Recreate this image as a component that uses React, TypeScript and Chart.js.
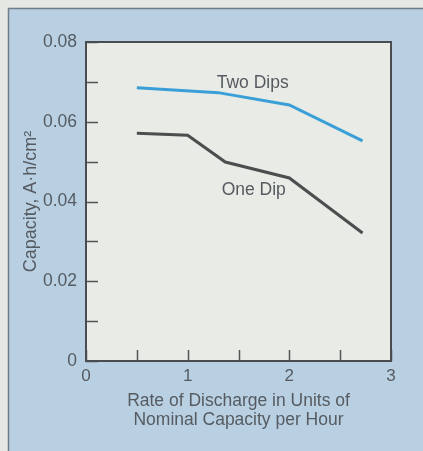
import React, { useEffect, useRef } from "react";
import { Chart, registerables } from "chart.js";

Chart.register(...registerables);

const twoDipsX = [0.5, 1.3, 2.0, 2.72];
const twoDipsY = [0.0685, 0.0673, 0.0642, 0.0552];
const oneDipX = [0.5, 1.0, 1.37, 2.0, 2.72];
const oneDipY = [0.0571, 0.0566, 0.0499, 0.0459, 0.0321];

const seriesLabels = ["Two Dips", "One Dip"];
const labelX = [1.64, 1.65];
const labelY = [0.0697, 0.0429];

const yTitle = "Capacity, A·h/cm²";
const xTitle = ["Rate of Discharge in Units of", "Nominal Capacity per Hour"];

const FONT = "'Liberation Sans', Arial, Helvetica, sans-serif";
const TEXT = "#555b60";

const decorPlugin = {
  id: "decor",
  beforeDraw(chart: any) {
    const { ctx, width, height, chartArea } = chart;
    ctx.save();
    ctx.fillStyle = "#e6e8e3";
    ctx.fillRect(0, 0, width, height);
    ctx.fillStyle = "#b9d0e3";
    ctx.fillRect(8, 8, width - 8, height - 8);
    ctx.strokeStyle = "#6d7d8a";
    ctx.lineWidth = 1.5;
    ctx.beginPath();
    ctx.moveTo(8.5, height);
    ctx.lineTo(8.5, 8.5);
    ctx.lineTo(width, 8.5);
    ctx.stroke();
    ctx.fillStyle = "#e9ebe7";
    ctx.fillRect(chartArea.left, chartArea.top, chartArea.right - chartArea.left, chartArea.bottom - chartArea.top);
    ctx.restore();
  },
  afterDraw(chart: any) {
    const { ctx, chartArea } = chart;
    const xs = chart.scales.x;
    const ys = chart.scales.y;
    ctx.save();
    ctx.strokeStyle = "#555";
    ctx.lineWidth = 1.5;
    ctx.beginPath();
    ys.ticks.forEach((t: any) => {
      const py = Math.round(ys.getPixelForValue(t.value)) + 0.5;
      ctx.moveTo(chartArea.left, py);
      ctx.lineTo(chartArea.left + 12, py);
    });
    xs.ticks.forEach((t: any) => {
      const px = Math.round(xs.getPixelForValue(t.value)) + 0.5;
      ctx.moveTo(px, chartArea.bottom);
      ctx.lineTo(px, chartArea.bottom - 11);
    });
    ctx.stroke();
    ctx.strokeStyle = "#4a4d50";
    ctx.lineWidth = 2;
    ctx.strokeRect(chartArea.left, chartArea.top, chartArea.right - chartArea.left, chartArea.bottom - chartArea.top);
    ctx.fillStyle = TEXT;
    ctx.font = `17.5px ${FONT}`;
    ctx.textAlign = "center";
    ctx.textBaseline = "middle";
    seriesLabels.forEach((s, i) => {
      ctx.fillText(s, xs.getPixelForValue(labelX[i]), ys.getPixelForValue(labelY[i]));
    });
    ctx.restore();
  },
};

export default function App() {
  const ref = useRef<HTMLCanvasElement>(null);
  useEffect(() => {
    document.body.style.margin = "0";
    const chart = new Chart(ref.current as HTMLCanvasElement, {
      type: "line",
      data: {
        datasets: [
          {
            label: seriesLabels[0],
            data: twoDipsX.map((x, i) => ({ x, y: twoDipsY[i] })),
            borderColor: "#3a9fd6",
            borderWidth: 3,
            pointRadius: 0,
            tension: 0,
          },
          {
            label: seriesLabels[1],
            data: oneDipX.map((x, i) => ({ x, y: oneDipY[i] })),
            borderColor: "#4b4d4f",
            borderWidth: 3,
            pointRadius: 0,
            tension: 0,
          },
        ],
      },
      options: {
        animation: false,
        responsive: false,
        devicePixelRatio: 1,
        layout: { padding: { left: 0, top: 42, right: 32, bottom: 0 } },
        plugins: { legend: { display: false }, tooltip: { enabled: false } },
        scales: {
          x: {
            type: "linear",
            min: 0,
            max: 3,
            grid: { display: false, drawTicks: false },
            border: { display: false },
            ticks: {
              stepSize: 0.5,
              color: TEXT,
              padding: 5,
              maxRotation: 0,
              autoSkip: false,
              font: { family: FONT, size: 17 },
              callback: (v: any) => (Number(v) % 1 === 0 ? String(v) : ""),
            },
            title: {
              display: true,
              text: xTitle,
              color: TEXT,
              font: { family: FONT, size: 17.5, lineHeight: 1.09 },
              padding: { top: 0, bottom: 21 },
            },
            afterFit: (s: any) => {
              s.height = 90;
            },
          },
          y: {
            min: 0,
            max: 0.08,
            grid: { display: false, drawTicks: false },
            border: { display: false },
            ticks: {
              stepSize: 0.01,
              color: TEXT,
              padding: 9,
              autoSkip: false,
              font: { family: FONT, size: 17.5 },
              callback: (v: any, i: number) =>
                i % 2 === 0 ? (Number(v) === 0 ? "0" : Number(v).toFixed(2)) : "",
            },
            title: {
              display: true,
              text: yTitle,
              color: TEXT,
              font: { family: FONT, size: 18, lineHeight: 1.2 },
              padding: { top: 20, bottom: 0 },
            },
            afterFit: (s: any) => {
              s.width = 86;
            },
          },
        },
      },
      plugins: [decorPlugin],
    } as any);
    return () => chart.destroy();
  }, []);
  return (
    <div style={{ position: "fixed", left: 0, top: 0, width: 423, height: 451 }}>
      <canvas ref={ref} width={423} height={451} />
    </div>
  );
}
